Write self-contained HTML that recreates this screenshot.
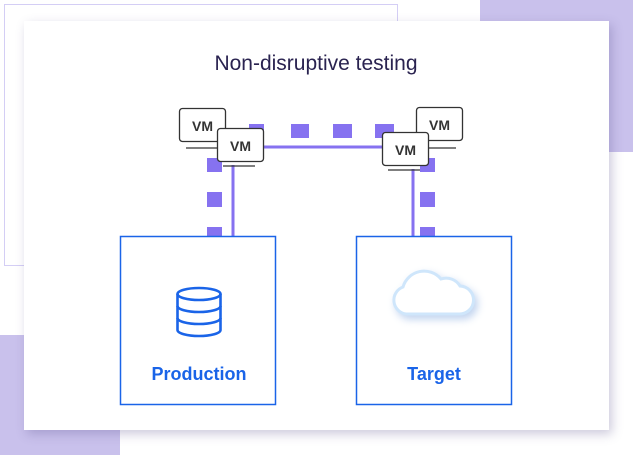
<!DOCTYPE html>
<html><head><style>
body{margin:0;width:633px;height:455px;position:relative;background:#fff;overflow:hidden;font-family:"Liberation Sans",sans-serif}
.a{position:absolute}
</style></head><body>
<div class="a" style="left:480px;top:0;width:153px;height:152px;background:#c9c1ec"></div>
<div class="a" style="left:0;top:335px;width:120px;height:120px;background:#c9c1ec"></div>
<div class="a" style="left:4px;top:4px;width:392px;height:260px;border:1.5px solid #d4cef5"></div>
<div class="a" style="left:24px;top:21px;width:585px;height:409px;background:#fff;box-shadow:3px 4px 10px rgba(90,80,140,0.3)"></div>
<svg class="a" style="left:0;top:0" width="633" height="455">
<g fill="#8672f0">
<rect x="249" y="124" width="15" height="14"/><rect x="291" y="124" width="18" height="14"/><rect x="333" y="124" width="19" height="14"/><rect x="375" y="124" width="19" height="14"/>
<rect x="207" y="158" width="15" height="14"/><rect x="207" y="192" width="15" height="15"/><rect x="207" y="227" width="15" height="9"/>
<rect x="420" y="158" width="15" height="14"/><rect x="420" y="192" width="15" height="15"/><rect x="420" y="227" width="15" height="9"/>
</g>
<g stroke="#8672f0" stroke-width="3" fill="none">
<line x1="262" y1="147" x2="383" y2="147"/><line x1="233" y1="165" x2="233" y2="236"/><line x1="413" y1="169" x2="413" y2="236"/>
</g>
<g font-family="Liberation Sans,sans-serif" font-size="14" fill="#333" text-anchor="middle" font-weight="bold">
<rect x="179.5" y="108.5" width="46" height="33" rx="3" fill="#fff" stroke="#333" stroke-width="1.3"/>
<line x1="186" y1="148" x2="221" y2="148" stroke="#333" stroke-width="1.3"/>
<text x="202.5" y="131">VM</text>
<rect x="416.5" y="107.5" width="46" height="33" rx="3" fill="#fff" stroke="#333" stroke-width="1.3"/>
<line x1="425" y1="148" x2="456" y2="148" stroke="#333" stroke-width="1.3"/>
<text x="439.5" y="130">VM</text>
<rect x="217.5" y="128.5" width="46" height="33" rx="3" fill="#fff" stroke="#333" stroke-width="1.3"/>
<line x1="223" y1="166" x2="255" y2="166" stroke="#333" stroke-width="1.3"/>
<text x="240.5" y="151">VM</text>
<rect x="382.5" y="132.5" width="46" height="33" rx="3" fill="#fff" stroke="#333" stroke-width="1.3"/>
<line x1="388" y1="170" x2="420" y2="170" stroke="#333" stroke-width="1.3"/>
<text x="405.5" y="155">VM</text>
</g>
<rect x="120.5" y="236.5" width="155" height="168" fill="none" stroke="#1a64e8" stroke-width="1.5"/>
<rect x="356.5" y="236.5" width="155" height="168" fill="none" stroke="#1a64e8" stroke-width="1.5"/>
<g stroke="#1a64e8" stroke-width="2.6" fill="none">
<ellipse cx="199" cy="294" rx="21.5" ry="6"/>
<path d="M177.5 294 V330 A21.5 6 0 0 0 220.5 330 V294"/>
<path d="M177.5 306 A21.5 6 0 0 0 220.5 306"/>
<path d="M177.5 318 A21.5 6 0 0 0 220.5 318"/>
</g>
<g>
<path d="M406 314 H459 A14 14 0 0 0 460 286 A16 16 0 0 0 441 279 A22 22 0 0 0 403 287 A14 14 0 0 0 406 314 Z" fill="#fff" stroke="#cfe6fb" stroke-width="3" style="filter:drop-shadow(3px 4px 4px rgba(120,160,220,0.45))"/>
</g>
<text x="316" y="70" text-anchor="middle" font-size="21" fill="#2a2350" font-family="Liberation Sans,sans-serif">Non-disruptive testing</text>
<text x="199" y="380" text-anchor="middle" font-size="18" font-weight="bold" fill="#1a64e8" font-family="Liberation Sans,sans-serif">Production</text>
<text x="434" y="380" text-anchor="middle" font-size="18" font-weight="bold" fill="#1a64e8" font-family="Liberation Sans,sans-serif">Target</text>
</svg>
</body></html>
